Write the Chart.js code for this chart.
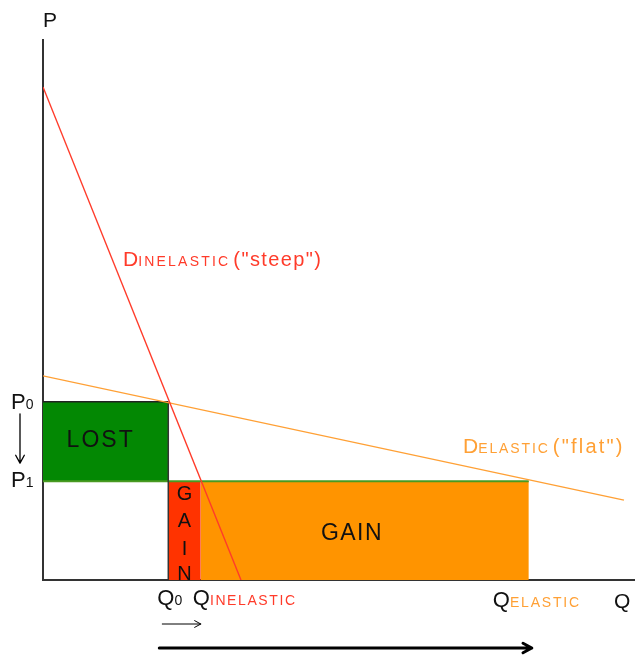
<!DOCTYPE html>
<html>
<head>
<meta charset="utf-8">
<script src="https://cdn.jsdelivr.net/npm/chart.js@4"></script>
<style>
  html, body { margin: 0; padding: 0; background: #fff; }
  #wrap { width: 636px; height: 658px; }
</style>
</head>
<body>
<div id="wrap"><canvas id="grafica"></canvas></div>
<script>
// curvas de demanda (Q, P)
const inelasticQ = [0, 33.5];
const inelasticP = [91.3, 0];
const elasticQ = [0, 98.3];
const elasticP = [37.8, 14.8];

// niveles de precio y cantidad
const prices = [33.0, 18.3];          // P0, P1
const quantities = [21.2, 26.7, 82.2]; // Q0, Q inelastic, Q elastic

const [P0, P1] = prices;
const [Q0, Qinel, Qel] = quantities;

const pts = (xs, ys) => xs.map((x, i) => ({ x: x, y: ys[i] }));

const FONT = '"Liberation Sans", Arial, sans-serif';

function arrow(ctx, x1, y1, x2, y2, head, width) {
    ctx.save();
    ctx.lineWidth = width;
    ctx.strokeStyle = '#000';
    ctx.lineCap = 'round';
    ctx.lineJoin = 'round';
    ctx.beginPath();
    ctx.moveTo(x1, y1);
    ctx.lineTo(x2, y2);
    const a = Math.atan2(y2 - y1, x2 - x1);
    ctx.moveTo(x2 - head * Math.cos(a - 0.5), y2 - head * Math.sin(a - 0.5));
    ctx.lineTo(x2, y2);
    ctx.lineTo(x2 - head * Math.cos(a + 0.5), y2 - head * Math.sin(a + 0.5));
    ctx.stroke();
    ctx.restore();
}

// texto con partes de distinto tamaño/color, en línea
function runs(ctx, x, y, parts) {
    ctx.textBaseline = 'alphabetic';
    ctx.textAlign = 'left';
    parts.forEach(p => {
        ctx.font = p.size + 'px ' + FONT;
        ctx.letterSpacing = (p.ls || 0) + 'px';
        ctx.fillStyle = p.color;
        ctx.fillText(p.text, x, y);
        x += ctx.measureText(p.text).width + (p.gap || 0);
    });
    ctx.letterSpacing = '0px';
}

const etiquetas = {
    id: 'etiquetas',
    afterDraw(chart) {
        const ctx = chart.ctx;
        const sx = chart.scales.x, sy = chart.scales.y;
        const X = v => sx.getPixelForValue(v);
        const Y = v => sy.getPixelForValue(v);
        const black = '#111';
        const red = '#ff3b2a';
        const orange = '#ffa035';
        ctx.save();

        // ejes
        runs(ctx, X(0), 27, [{ text: 'P', size: 21, color: black }]);
        runs(ctx, sx.right - 20, 608, [{ text: 'Q', size: 21, color: black }]);

        // precios
        runs(ctx, 11, Y(P0) + 7, [{ text: 'P', size: 22, color: black }, { text: '0', size: 14, color: black }]);
        runs(ctx, 11, Y(P1) + 6, [{ text: 'P', size: 22, color: black }, { text: '1', size: 14, color: black }]);
        arrow(ctx, 20, Y(P0) + 12, 20, Y(P1) - 18, 9, 1.3);

        // cantidades
        runs(ctx, X(Q0) - 11, 605, [{ text: 'Q', size: 22, color: black }, { text: '0', size: 14, color: black }]);
        runs(ctx, X(Qinel) - 8, 605, [{ text: 'Q', size: 22, color: black }, { text: 'INELASTIC', size: 14, color: red, ls: 1.6 }]);
        runs(ctx, X(Qel) - 36, 607, [{ text: 'Q', size: 22, color: black }, { text: 'ELASTIC', size: 14, color: orange, ls: 1.8 }]);

        // áreas
        ctx.textAlign = 'center';
        ctx.fillStyle = black;
        ctx.font = '23px ' + FONT;
        ctx.letterSpacing = '2px';
        ctx.fillText('LOST', (X(0) + X(Q0)) / 2 - 5, 447);
        ctx.letterSpacing = '1.5px';
        ctx.fillText('GAIN', 352, 540);
        ctx.letterSpacing = '0px';
        ctx.font = '20px ' + FONT;
        const gx = (X(Q0) + X(Qinel)) / 2;
        ['G', 'A', 'I', 'N'].forEach((c, i) => ctx.fillText(c, gx, [500, 527, 555, 580][i]));

        // curvas
        runs(ctx, 123, 266, [
            { text: 'D', size: 21, color: red },
            { text: 'INELASTIC', size: 14, color: red, ls: 2.2, gap: 3 },
            { text: '("steep")', size: 20, color: red, ls: 1.4 }
        ]);
        runs(ctx, 463, 453, [
            { text: 'D', size: 21, color: orange },
            { text: 'ELASTIC', size: 14, color: orange, ls: 1.9, gap: 3 },
            { text: '("flat")', size: 20, color: orange, ls: 2.2 }
        ]);

        // flechas de cantidad
        arrow(ctx, X(Q0) - 6, 624, X(Qinel), 624, 7, 1);
        arrow(ctx, X(Q0) - 9, 648, X(Qel) + 3, 648, 10, 3);

        ctx.restore();
    }
};

let ctx = document.getElementById('grafica').getContext('2d');
new Chart(ctx, {
    type: 'scatter',
    data: {
        datasets: [
            {
                label: 'D inelastic',
                data: pts(inelasticQ, inelasticP),
                showLine: true,
                borderColor: '#ff3b2a',
                borderWidth: 1.4,
                pointRadius: 0,
                order: 1
            },
            {
                label: 'D elastic',
                data: pts(elasticQ, elasticP),
                showLine: true,
                borderColor: '#ffa035',
                borderWidth: 1.4,
                pointRadius: 0,
                order: 1
            },
            {
                label: 'Q0',
                data: [{ x: Q0, y: P0 }, { x: Q0, y: 0 }],
                showLine: true,
                borderColor: '#333',
                borderWidth: 1.5,
                pointRadius: 0,
                order: 2
            },
            {
                label: 'P1',
                data: [{ x: 0, y: P1 }, { x: Qel, y: P1 }],
                showLine: true,
                borderColor: '#4a9a22',
                borderWidth: 2,
                pointRadius: 0,
                order: 2
            },
            {
                label: 'LOST',
                data: [{ x: 0, y: P0 }, { x: Q0, y: P0 }],
                showLine: true,
                borderColor: '#222',
                borderWidth: 1.5,
                backgroundColor: '#038803',
                fill: { value: P1 },
                pointRadius: 0,
                order: 5
            },
            {
                label: 'GAIN inelastic',
                data: [{ x: Q0, y: P1 }, { x: Qinel, y: P1 }],
                showLine: true,
                borderColor: '#4a9a22',
                borderWidth: 0,
                backgroundColor: '#ff3300',
                fill: 'origin',
                pointRadius: 0,
                order: 5
            },
            {
                label: 'GAIN elastic',
                data: [{ x: Qinel, y: P1 }, { x: Qel, y: P1 }],
                showLine: true,
                borderColor: '#4a9a22',
                borderWidth: 0,
                backgroundColor: '#ff9400',
                fill: 'origin',
                pointRadius: 0,
                order: 5
            }
        ]
    },
    options: {
        responsive: true,
        maintainAspectRatio: false,
        animation: false,
        layout: { padding: { left: 43, top: 40, right: 2, bottom: 78 } },
        plugins: {
            legend: { display: false },
            tooltip: { enabled: false }
        },
        scales: {
            x: {
                type: 'linear',
                min: 0, max: 100,
                ticks: { display: false },
                grid: { display: false, drawTicks: false },
                border: { display: true, color: '#333', width: 2 }
            },
            y: {
                type: 'linear',
                min: 0, max: 100,
                ticks: { display: false },
                grid: { display: false, drawTicks: false },
                border: { display: true, color: '#333', width: 2 }
            }
        }
    },
    plugins: [etiquetas]
});
</script>
</body>
</html>
